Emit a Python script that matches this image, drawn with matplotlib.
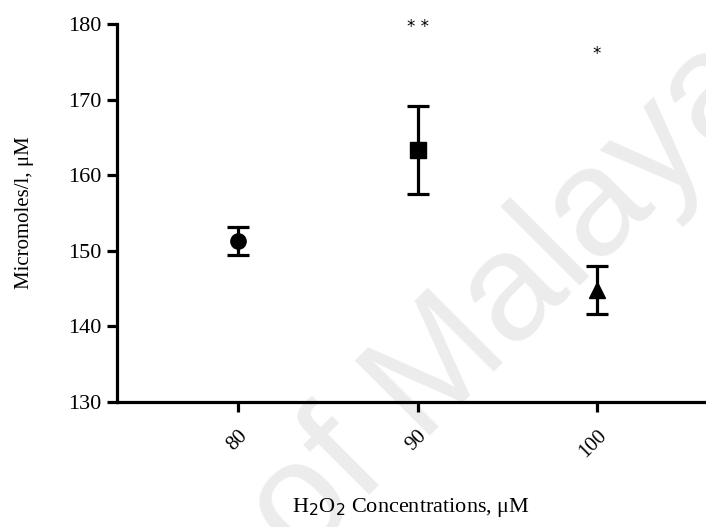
import numpy as np
import matplotlib.pyplot as plt

# H2O2 treatment groups and measured values (mean +/- SEM)
concentrations = ["80", "90", "100"]
means = [151.3, 163.3, 144.8]
errors = [1.8, 5.8, 3.2]
markers = ["o", "s", "^"]
significance = ["", "* *", "*"]
sig_heights = [None, 179.6, 176.0]

y_ticks = [130, 140, 150, 160, 170, 180]

plt.rcParams['font.family'] = ['Liberation Serif', 'DejaVu Serif']

W, H = 706, 527
fig = plt.figure(figsize=(W / 100, H / 100), dpi=100)
ax = fig.add_axes([117 / W, 1 - 402 / H, 1 - 117 / W, (402 - 24) / H])
ax.set_zorder(1)
ax.set_facecolor('none')

# faint background watermark
fig.text(300 / W, 1 - 565 / H, "of Malaya", fontsize=111,
         family='Liberation Sans', color='#ececec', rotation=45,
         rotation_mode='anchor', ha='left', va='baseline', zorder=0)

x = np.arange(len(concentrations))
for xi, m, e, mk in zip(x, means, errors, markers):
    ax.errorbar(xi, m, yerr=e, fmt=mk, color='black', markersize=11,
                elinewidth=2.3, capsize=8, capthick=2.3, zorder=3)

for xi, lab, h in zip(x, significance, sig_heights):
    if lab and h is not None:
        ax.text(xi, h, lab, ha='center', va='center', fontsize=12,
                family='DejaVu Sans')

ax.set_xlim(-0.674, 2.607)
ax.set_ylim(130, 180)
ax.set_yticks(y_ticks)
ax.set_yticklabels([str(t) for t in y_ticks], fontsize=16)
ax.set_xticks(x)
ax.set_xticklabels(concentrations, rotation=45, ha='right', va='top',
                   rotation_mode='anchor', fontsize=15)

for side in ['top', 'right']:
    ax.spines[side].set_visible(False)
for side in ['left', 'bottom']:
    ax.spines[side].set_linewidth(2.3)
ax.tick_params(axis='both', width=2.3, length=7.5, direction='out')
ax.tick_params(axis='y', pad=4)
ax.tick_params(axis='x', pad=10)

ax.set_ylabel("Micromoles/l, \u03bcM", fontsize=15, labelpad=24)
ax.set_xlabel("H$_2$O$_2$ Concentrations, \u03bcM", fontsize=16, labelpad=25)

fig.savefig("out.png", dpi=100)
